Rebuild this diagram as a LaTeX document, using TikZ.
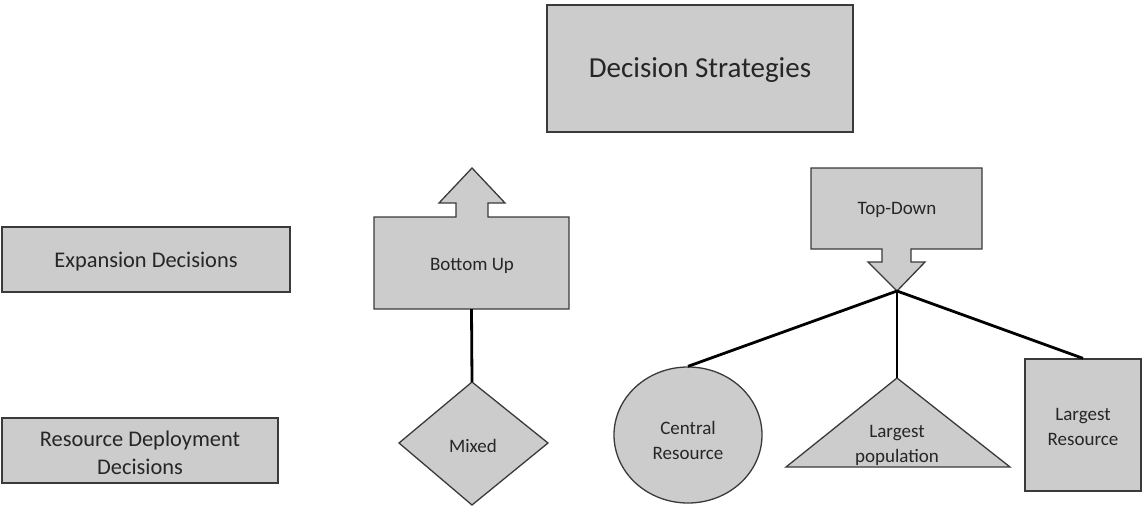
\documentclass[tikz,border=0pt]{standalone}
\usepackage{fontspec}
\setmainfont{Carlito}
\usetikzlibrary{shapes.geometric}
\definecolor{boxfill}{HTML}{CCCCCC}
\definecolor{boxline}{HTML}{3A3A3A}
\definecolor{txt}{HTML}{262626}
\begin{document}
\begin{tikzpicture}[x=1pt,y=-1pt,
  shapebox/.style={fill=boxfill,draw=boxline,line width=1.3pt,line join=miter},
  lbl/.style={text=txt,align=center,inner sep=0pt},
  small/.style={font=\fontsize{19}{25}\selectfont},
  medium/.style={font=\fontsize{22.4}{28}\selectfont},
  large/.style={font=\fontsize{29}{35}\selectfont},
  link/.style={line width=2.8pt,black}]
\useasboundingbox (0,0) rectangle (1143,506);

% Decision Strategies
\node[shapebox,minimum width=306pt,minimum height=127pt,inner sep=0pt] (title) at (700,68.5) {};
\node[lbl,large] (titletxt) at (700,70) {Decision Strategies};

% Left boxes
\node[shapebox,minimum width=288pt,minimum height=65pt,inner sep=0pt] (exp) at (146,259.5) {};
\node[lbl,medium] (exptxt) at (146,262) {Expansion Decisions};
\node[shapebox,minimum width=276pt,minimum height=65pt,inner sep=0pt] (res) at (140,450.5) {};
\node[lbl,medium] (restxt) at (140,453) {Resource Deployment\\Decisions};

% Bottom Up callout
\draw[shapebox] (374,217) -- (456,217) -- (456,203) -- (439,203) -- (472,168)
  -- (505,203) -- (488,203) -- (488,217) -- (569,217) -- (569,309) -- (374,309) -- cycle;
\node[minimum width=195pt,minimum height=92pt,inner sep=0pt] (bu) at (471.5,263) {};
\node[lbl,small] (butxt) at (472,266) {Bottom Up};

% Mixed diamond
\draw[shapebox] (472,382) -- (548,443) -- (472,505) -- (399,443) -- cycle;
\node[minimum width=149pt,minimum height=123pt,inner sep=0pt] (mixed) at (472,443.5) {};
\node[lbl,small] (mixedtxt) at (473,446) {Mixed};

% Top-Down callout
\draw[shapebox] (811,168) -- (982,168) -- (982,249) -- (911,249) -- (911,262) -- (925,262)
  -- (897,291) -- (868,262) -- (882,262) -- (882,249) -- (811,249) -- cycle;
\node[minimum width=171pt,minimum height=81pt,inner sep=0pt] (td) at (896.5,208.5) {};
\node[lbl,small] (tdtxt) at (897,210) {Top-Down};
\coordinate (tip) at (897,291);

% Central Resource ellipse
\node[shapebox,ellipse,minimum width=148pt,minimum height=136pt,inner sep=0pt] (central) at (688,435) {};
\node[lbl,small] (centraltxt) at (688,440) {Central\\Resource};

% Largest population triangle
\draw[shapebox] (897,378) -- (1010,467) -- (786,467) -- cycle;
\coordinate (apex) at (897,378);
\node[lbl,small] (poptxt) at (897,445) {Largest\\population};

% Largest Resource square
\node[shapebox,minimum width=116pt,minimum height=132pt,inner sep=0pt] (lres) at (1083,425) {};
\node[lbl,small] (lrestxt) at (1083,427) {Largest\\Resource};

% Connectors
\draw[link] (bu.south) -- (mixed.north);
\draw[link] (tip) -- (central.north);
\draw[link] (tip) -- (apex);
\draw[link] (tip) -- (lres.north);
\end{tikzpicture}
\end{document}
